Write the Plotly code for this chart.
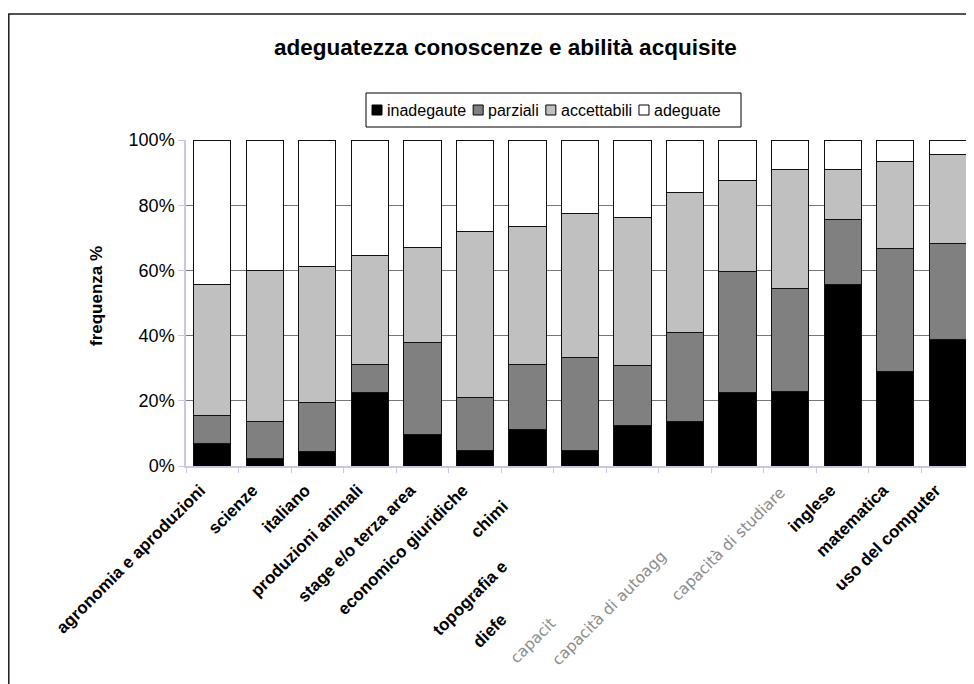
import plotly.graph_objects as go

# ---- data ----
tick_labels = ["agronomia e aproduzioni", "scienze", "italiano", "produzioni animali",
               "stage e/o terza area", "economico giuridiche", "chimi", "topografia e",
               "diefe", "capacit", "capacità di autoagg", "capacità di studiare",
               "inglese", "matematica", "uso del computer"]
series_names = ["inadegaute", "parziali", "accettabili", "adeguate"]
inadegaute = [7.0, 2.4, 4.4, 22.5, 9.8, 4.7, 11.3, 4.7, 12.3, 13.6, 22.4, 22.8, 55.8, 28.9, 38.9]
parziali = [8.6, 11.1, 15.1, 8.7, 28.2, 16.3, 19.9, 28.6, 18.6, 27.2, 37.4, 31.8, 19.8, 37.9, 29.3]
accettabili = [40.1, 46.4, 41.6, 33.3, 29.0, 51.0, 42.2, 44.3, 45.3, 43.2, 27.7, 36.2, 15.5, 26.5, 27.3]
adeguate = [44.3, 40.1, 38.9, 35.5, 33.0, 28.0, 26.6, 22.4, 23.8, 16.0, 12.5, 9.2, 8.9, 6.7, 4.5]
y_ticks = [0, 20, 40, 60, 80, 100]
y_tick_text = ["0%", "20%", "40%", "60%", "80%", "100%"]

colors = ["#000000", "#808080", "#c0c0c0", "#ffffff"]
series_vals = [inadegaute, parziali, accettabili, adeguate]

# page has an 8px body margin: the figure is placed at (8, 8)
OFF = 8
W, H = 974 - OFF, 684 - OFF
L, R, T, B = 186 - OFF, 0, 140 - OFF, 218
PW, PH = W - L - R, H - T - B


def px_x(px):
    # page pixel -> paper coordinate
    return (px - OFF - L) / PW


def px_y(py):
    return (H - B - (py - OFF)) / PH


fig = go.Figure()
for name, vals, col in zip(series_names, series_vals, colors):
    fig.add_trace(go.Bar(x=tick_labels, y=vals, name=name,
                         marker=dict(color=col, line=dict(color="#111111", width=1)),
                         showlegend=False))

# tick labels: normal ones on axis, odd/clipped ones as annotations
normal_idx = [0, 1, 2, 3, 4, 5, 12, 13, 14]
ticktext = [tick_labels[i] if i in normal_idx else "" for i in range(len(tick_labels))]

fig.update_layout(
    width=W, height=H,
    margin=dict(l=L, r=R, t=T, b=B, autoexpand=False),
    paper_bgcolor="white", plot_bgcolor="white",
    barmode="stack", bargap=0.29,
    font=dict(family="Liberation Sans, Arial", color="black"),
    xaxis=dict(type="category", tickmode="array", tickvals=tick_labels, ticktext=ticktext,
               tickangle=-45, tickfont=dict(size=17, family="Liberation Sans, Arial", weight="bold"),
               ticklabelshift=-12, ticklabelstandoff=6,
               showline=True, linecolor="#c8c8e6", linewidth=1.5,
               ticks="outside", tickson="boundaries", ticklen=5, tickcolor="#c8c8e6",
               showgrid=False, range=[-0.5, 14.5]),
    yaxis=dict(range=[0, 100], tickmode="array", tickvals=y_ticks, ticktext=y_tick_text,
               tickfont=dict(size=18), showline=True, linecolor="#c8c8e6", linewidth=1.5,
               ticks="outside", ticklen=6, tickcolor="#c8c8e6",
               showgrid=True, gridcolor="#767676", gridwidth=1, zeroline=False),
)

shapes = []
annotations = []

# outer chart frame
shapes.append(dict(type="rect", xref="paper", yref="paper",
                   x0=px_x(8.8), x1=px_x(1010), y0=px_y(720), y1=px_y(14),
                   line=dict(color="#1a1a1a", width=1.5), fillcolor="rgba(0,0,0,0)", layer="below"))

# title
annotations.append(dict(text="<b>adeguatezza conoscenze e abilità acquisite</b>",
                        xref="paper", yref="paper", x=px_x(505), y=px_y(47),
                        xanchor="center", yanchor="middle", showarrow=False,
                        font=dict(size=22.5, family="Liberation Sans, Arial", color="black")))

# y axis title
annotations.append(dict(text="<b>frequenza %</b>", xref="paper", yref="paper",
                        x=px_x(96), y=px_y(296), textangle=-90,
                        xanchor="center", yanchor="middle", showarrow=False,
                        font=dict(size=17, family="Liberation Sans, Arial", color="black")))

# legend (custom box)
leg_left, leg_right, leg_top, leg_bot = 366, 741, 93, 127
shapes.append(dict(type="rect", xref="paper", yref="paper",
                   x0=px_x(leg_left), x1=px_x(leg_right), y0=px_y(leg_bot), y1=px_y(leg_top),
                   line=dict(color="black", width=1), fillcolor="white"))
leg_font = 16
em = {"inadegaute": 4.948, "parziali": 3.167, "accettabili": 4.446, "adeguate": 4.17}
cx = leg_left + 6
cy = (leg_top + leg_bot) / 2
for name, col in zip(series_names, colors):
    shapes.append(dict(type="rect", xref="paper", yref="paper",
                       x0=px_x(cx), x1=px_x(cx + 10), y0=px_y(cy + 5), y1=px_y(cy - 5),
                       line=dict(color="black", width=1), fillcolor=col))
    annotations.append(dict(text=name, xref="paper", yref="paper",
                            x=px_x(cx + 13), y=px_y(cy), xanchor="left", yanchor="middle",
                            showarrow=False,
                            font=dict(size=leg_font, family="Liberation Sans, Arial", color="black")))
    cx += 13 + em[name] * leg_font + 9

# odd x labels (clipped / grey in the original)
odd = [
    (6, 514, 494, "bold"),
    (7, 514, 555, "bold"),
    (8, 514, 607, "bold"),
    (9, 562, 612, "grey"),
    (10, 673, 544, "grey"),
    (11, 792, 481, "grey"),
]
for i, ax_, ay_, style in odd:
    if style == "bold":
        f = dict(size=17, family="Liberation Sans, Arial", color="black", weight="bold")
    else:
        f = dict(size=15.5, family="DejaVu Sans", color="#8c8c8c")
    annotations.append(dict(text=tick_labels[i], xref="paper", yref="paper",
                            x=px_x(ax_), y=px_y(ay_), xanchor="right", yanchor="top",
                            textangle=-45, showarrow=False, font=f))

fig.update_layout(shapes=shapes, annotations=annotations)
fig.write_html("out.html")
